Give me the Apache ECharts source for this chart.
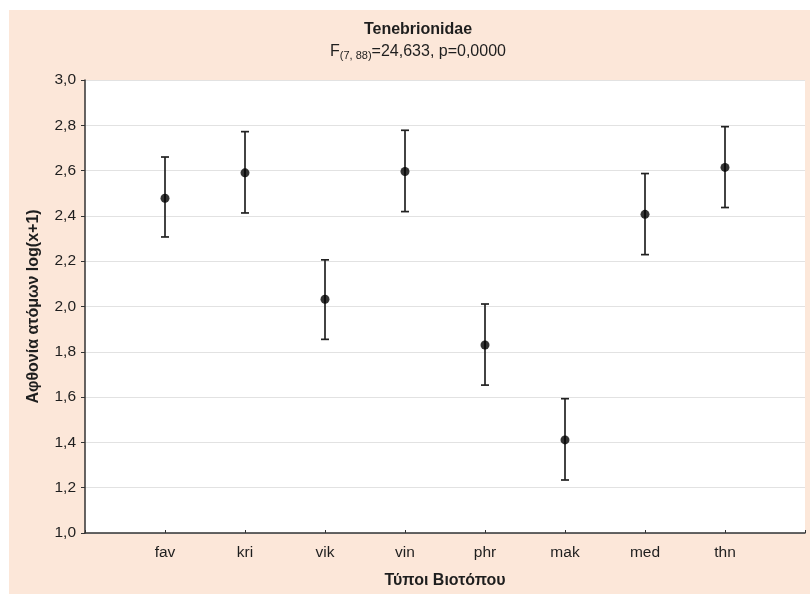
<!DOCTYPE html>
<html>
<head>
<meta charset="utf-8">
<script src="https://cdn.jsdelivr.net/npm/echarts@6/dist/echarts.min.js"></script>
<style>
  html, body { margin: 0; padding: 0; background: #ffffff; }
  #chart { width: 810px; height: 594px; }
</style>
</head>
<body>
<div id="chart"></div>
<script>
// Habitat types and the mean abundance with its interval limits
const habitats = ['fav', 'kri', 'vik', 'vin', 'phr', 'mak', 'med', 'thn'];
const means = [2.478, 2.590, 2.032, 2.596, 1.830, 1.411, 2.407, 2.614];
const lower = [2.307, 2.413, 1.855, 2.419, 1.653, 1.234, 2.229, 2.437];
const upper = [2.660, 2.772, 2.206, 2.778, 2.011, 1.593, 2.587, 2.794];
const yTicks = { min: 1.0, max: 3.0, step: 0.2 };

// Empty slots at both ends give the half-step margins around the habitats
const axisCategories = [''].concat(habitats, ['']);

const FONT = '"Liberation Sans", Arial, sans-serif';
const PANEL = '#fce7d9';
const INK = '#1e1e1e';

const chart = echarts.init(document.getElementById('chart'), null, { renderer: 'canvas' });

const option = {
  backgroundColor: '#ffffff',
  animation: false,
  textStyle: { fontFamily: FONT },
  graphic: [
    { type: 'rect', z: -10, silent: true, shape: { x: 9, y: 10, width: 801, height: 584 }, style: { fill: PANEL } },
    {
      type: 'text', silent: true,
      style: {
        x: 418, y: 30, text: 'Tenebrionidae', align: 'center', verticalAlign: 'middle',
        font: 'bold 16px ' + FONT, fill: INK
      }
    },
    {
      type: 'text', silent: true,
      style: {
        x: 418, y: 52, align: 'center', verticalAlign: 'middle',
        text: 'F{sub|(7, 88)}=24,633, p=0,0000',
        font: '16px ' + FONT, fill: INK,
        rich: {
          sub: { fontSize: 11, fontFamily: FONT, fill: INK, padding: [8, 0, 0, 0] }
        }
      }
    }
  ],
  grid: {
    left: 85, top: 80, right: 5, bottom: 61,
    show: true, backgroundColor: '#ffffff', borderWidth: 0
  },
  xAxis: {
    type: 'category',
    data: axisCategories,
    boundaryGap: false,
    name: 'Τύποι Βιοτόπου',
    nameLocation: 'middle',
    nameGap: 40,
    nameTextStyle: { fontWeight: 'bold', fontSize: 16, color: INK, fontFamily: FONT },
    axisLine: { show: true, lineStyle: { color: '#333333', width: 1.5 } },
    axisTick: { show: true, inside: true, length: 3, alignWithLabel: true, interval: 0, lineStyle: { color: '#333333' } },
    axisLabel: { interval: 0, color: INK, fontSize: 15.5, margin: 12, fontFamily: FONT },
    splitLine: { show: false }
  },
  yAxis: {
    type: 'value',
    min: yTicks.min,
    max: yTicks.max,
    interval: yTicks.step,
    name: 'Αφθονία ατόμων log(x+1)',
    nameLocation: 'middle',
    nameGap: 43,
    nameTextStyle: { fontWeight: 'bold', fontSize: 16, color: INK, fontFamily: FONT },
    axisLine: { show: true, lineStyle: { color: '#333333', width: 1.5 } },
    axisTick: { show: true, inside: false, length: 4, lineStyle: { color: '#333333' } },
    axisLabel: {
      color: INK, fontSize: 15.5, margin: 9, fontFamily: FONT,
      formatter: v => v.toFixed(1).replace('.', ',')
    },
    splitLine: { show: true, lineStyle: { color: '#e2e2e2', width: 1 } }
  },
  series: [
    {
      type: 'custom',
      name: 'interval',
      data: habitats.map((h, i) => [h, lower[i], upper[i]]),
      encode: { x: 0, y: [1, 2] },
      renderItem: function (params, api) {
        const lo = api.coord([api.value(0), api.value(1)]);
        const hi = api.coord([api.value(0), api.value(2)]);
        const cap = 4;
        const style = { stroke: '#222222', lineWidth: 1.7, fill: null };
        return {
          type: 'group',
          children: [
            { type: 'line', shape: { x1: lo[0], y1: lo[1], x2: hi[0], y2: hi[1] }, style: style },
            { type: 'line', shape: { x1: hi[0] - cap, y1: hi[1], x2: hi[0] + cap, y2: hi[1] }, style: style },
            { type: 'line', shape: { x1: lo[0] - cap, y1: lo[1], x2: lo[0] + cap, y2: lo[1] }, style: style }
          ]
        };
      },
      z: 2
    },
    {
      type: 'scatter',
      name: 'mean',
      data: habitats.map((h, i) => [h, means[i]]),
      symbol: 'circle',
      symbolSize: 9,
      itemStyle: { color: '#000000' },
      z: 3
    }
  ]
};

chart.setOption(option);
</script>
</body>
</html>
